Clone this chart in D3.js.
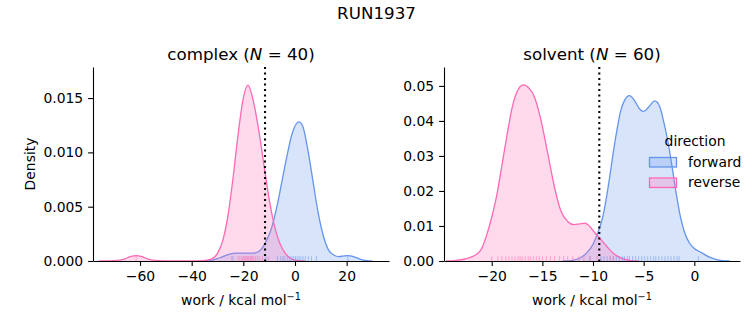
<!DOCTYPE html>
<html>
<head>
<meta charset="utf-8">
<script src="https://cdn.jsdelivr.net/npm/d3@7"></script>
<style>
  body { margin: 0; background: #fff; }
  svg { display: block; }
  text { font-family: "DejaVu Sans", sans-serif; fill: #000; }
</style>
</head>
<body>
<div id="chart"></div>
<script>
// work distributions for one perturbation, forward vs reverse
const runName = 'RUN1937';
const directions = ['forward', 'reverse'];
const directionColors = ['#6495ed', '#ff69b4'];

// complex leg: density curves [work, density]
const complexForward = [
  [-36, 0], [-33, 0.00005], [-31, 0.00015], [-29, 0.0003], [-27, 0.0005], [-25, 0.00065],
  [-23, 0.00072], [-21, 0.00073], [-19, 0.00072], [-17, 0.00072], [-15, 0.00078],
  [-13, 0.0011], [-11, 0.0019], [-9, 0.0031], [-7, 0.005], [-5, 0.0074], [-3, 0.0098],
  [-1, 0.0118], [1.5, 0.0128], [3, 0.0124], [5, 0.0102], [7, 0.0073], [9, 0.0044],
  [11, 0.0023], [13, 0.001], [15, 0.00055], [17, 0.0004], [19, 0.00047], [20.5, 0.0005],
  [22, 0.00045], [24, 0.00028], [26, 0.0001], [28, 0.00003], [30, 0]
];
const complexReverse = [
  [-76, 0], [-70, 0.00003], [-66, 0.00018], [-63.5, 0.00043], [-61.5, 0.0005],
  [-59.5, 0.00043], [-57, 0.00018], [-53, 0.00003], [-48, 0], [-40, 0],
  [-36, 0.00003], [-34, 0.00008], [-32, 0.00022], [-30, 0.0007], [-28, 0.00185],
  [-26, 0.0041], [-24, 0.0076], [-22, 0.0117], [-20, 0.015], [-18.2, 0.0162],
  [-16, 0.0146], [-14, 0.012], [-12, 0.0088], [-11, 0.0072], [-10, 0.0057],
  [-9, 0.0044], [-8, 0.0033], [-7, 0.0024], [-6, 0.0017], [-5, 0.0012], [-4, 0.0008],
  [-3, 0.0005], [-2, 0.0003], [-1, 0.00015], [0, 0.00008], [2, 0.00002], [4, 0]
];
const complexForwardWork = [-24, -11.2, -6.8, -5.5, -4.6, -3.9, -2.8, -1.9, -1.2, -0.5,
  0.2, 0.9, 1.6, 2.3, 3.1, 4.0, 5.2, 6.4, 8.3, 20.5];
const complexReverseWork = [-61.5, -24.5, -22.0, -21.3, -20.5, -20.0, -19.6, -19.0, -18.6,
  -18.2, -17.8, -17.3, -16.9, -16.5, -16.0, -15.3, -14.6, -13.8, -12.6, -10.2];
const complexEstimate = -11.6;
const complexXTicks = [-60, -40, -20, 0, 20];
const complexYTicks = [0, 0.005, 0.010, 0.015];

// solvent leg
const solventForward = [
  [-13, 0], [-12, 0.0002], [-11.2, 0.001], [-10.6, 0.0024], [-10, 0.0048], [-9.5, 0.0082],
  [-9, 0.013], [-8.65, 0.0185], [-8.3, 0.025], [-8.0, 0.031], [-7.6, 0.038], [-7.3, 0.0425],
  [-6.9, 0.0458], [-6.4, 0.0472], [-5.9, 0.0458], [-5.4, 0.0434], [-5.0, 0.0427],
  [-4.5, 0.044], [-3.9, 0.0457], [-3.4, 0.044], [-3.0, 0.0395], [-2.6, 0.034],
  [-2.2, 0.027], [-1.8, 0.0195], [-1.4, 0.013], [-1.0, 0.0085], [-0.5, 0.0052],
  [0, 0.0036], [0.5, 0.0027], [1.0, 0.0019], [1.5, 0.0011], [2.2, 0.0004], [3, 0.00005], [3.5, 0]
];
const solventReverse = [
  [-24.5, 0], [-23.5, 0.0002], [-22.5, 0.0007], [-21.5, 0.0019], [-21, 0.0035],
  [-20.5, 0.0074], [-20, 0.0125], [-19.5, 0.0188], [-19, 0.0272], [-18.5, 0.0358],
  [-18, 0.0436], [-17.5, 0.0483], [-16.9, 0.0503], [-16.3, 0.0493], [-15.8, 0.047],
  [-15.2, 0.041], [-14.5, 0.0312], [-13.85, 0.0217], [-13.2, 0.0145], [-12.5, 0.0113],
  [-11.9, 0.0104], [-11.3, 0.0106], [-10.8, 0.0108], [-10.3, 0.0098], [-9.8, 0.008],
  [-9.3, 0.0064], [-8.65, 0.0042], [-8.0, 0.0022], [-7.2, 0.0008], [-6.3, 0.0001], [-5.5, 0]
];
const solventForwardWork = [-10.3, -9.2, -8.9, -8.6, -8.3, -8.0, -7.7, -7.4, -7.1, -6.9,
  -6.6, -6.4, -6.1, -5.8, -5.5, -5.2, -4.9, -4.6, -4.3, -4.0, -3.8, -3.5, -3.2, -2.9,
  -2.6, -2.3, -2.0, -1.7, -1.5, 0.4];
const solventReverseWork = [-20.0, -19.4, -19.0, -18.6, -18.3, -18.0, -17.7, -17.4,
  -17.2, -17.0, -16.7, -16.4, -16.2, -15.9, -15.6, -15.3, -15.0, -14.6, -14.2, -13.8,
  -13.3, -12.9, -12.5, -12.0, -11.4, -10.9, -10.3, -9.6, -8.3, -8.0];
const solventEstimate = -9.38;
const solventXTicks = [-20, -15, -10, -5, 0];
const solventYTicks = [0, 0.01, 0.02, 0.03, 0.04, 0.05];

const width = 753;
const height = 325;
const tickLen = 4.9;
const plotTop = 67;
const plotBottom = 261;

const panels = [
  {
    title: 'complex', n: 40, x0: 93, x1: 389,
    xDomain: [-78.2, 36.4], yDomain: [0, 0.01786],
    curves: [complexForward, complexReverse],
    rugs: [complexForwardWork, complexReverseWork],
    estimate: complexEstimate,
    xTicks: complexXTicks, yTicks: complexYTicks, yFormat: '.3f', yLabel: 'Density'
  },
  {
    title: 'solvent', n: 60, x0: 444, x1: 740,
    xDomain: [-24.71, 4.51], yDomain: [0, 0.0554],
    curves: [solventForward, solventReverse],
    rugs: [solventForwardWork, solventReverseWork],
    estimate: solventEstimate,
    xTicks: solventXTicks, yTicks: solventYTicks, yFormat: '.2f', yLabel: null
  }
];

const svg = d3.select('#chart').append('svg')
  .attr('width', width)
  .attr('height', height);

svg.append('text')
  .attr('x', width / 2)
  .attr('y', 19)
  .attr('text-anchor', 'middle')
  .style('font-size', '16.7px')
  .text(runName);

panels.forEach(p => {
  const x = d3.scaleLinear().domain(p.xDomain).range([p.x0, p.x1]);
  const y = d3.scaleLinear().domain(p.yDomain).range([plotBottom, plotTop]);
  const g = svg.append('g');

  const area = d3.area()
    .x(d => x(d[0]))
    .y0(y(0))
    .y1(d => y(d[1]))
    .curve(d3.curveMonotoneX);
  const line = d3.line()
    .x(d => x(d[0]))
    .y(d => y(d[1]))
    .curve(d3.curveMonotoneX);

  p.curves.forEach((c, i) => {
    g.append('path')
      .attr('d', area(c))
      .attr('fill', directionColors[i])
      .attr('fill-opacity', 0.25);
    g.append('path')
      .attr('d', line(c))
      .attr('fill', 'none')
      .attr('stroke', directionColors[i])
      .attr('stroke-width', 1.3);
  });

  // rug ticks along the bottom
  const rugH = 0.025 * (plotBottom - plotTop);
  p.rugs.forEach((r, i) => {
    g.selectAll(null)
      .data(r)
      .enter()
      .append('line')
      .attr('x1', d => x(d))
      .attr('x2', d => x(d))
      .attr('y1', plotBottom)
      .attr('y2', plotBottom - rugH)
      .attr('stroke', directionColors[i])
      .attr('stroke-opacity', 0.5)
      .attr('stroke-width', 1);
  });

  g.append('line')
    .attr('x1', x(p.estimate))
    .attr('x2', x(p.estimate))
    .attr('y1', plotTop)
    .attr('y2', plotBottom)
    .attr('stroke', '#000')
    .attr('stroke-width', 2.1)
    .attr('stroke-dasharray', '2.1,3.4');

  const xAxis = d3.axisBottom(x)
    .tickValues(p.xTicks)
    .tickSize(tickLen)
    .tickSizeOuter(0)
    .tickPadding(4.9)
    .tickFormat(d3.format('d'));
  const yAxis = d3.axisLeft(y)
    .tickValues(p.yTicks)
    .tickSize(tickLen)
    .tickSizeOuter(0)
    .tickPadding(4.9)
    .tickFormat(d3.format(p.yFormat));

  [g.append('g').attr('transform', `translate(0,${plotBottom})`).call(xAxis),
   g.append('g').attr('transform', `translate(${p.x0},0)`).call(yAxis)]
    .forEach(a => {
      a.select('.domain').attr('stroke-width', 1.1);
      a.selectAll('.tick line').attr('stroke-width', 1.1);
      a.selectAll('.tick text')
        .style('font-size', '13.9px')
        .style('font-family', '"DejaVu Sans", sans-serif')
        .attr('fill', '#000');
    });

  const cx = (p.x0 + p.x1) / 2;
  const title = g.append('text')
    .attr('x', cx)
    .attr('y', 60)
    .attr('text-anchor', 'middle')
    .style('font-size', '16.7px');
  title.append('tspan').text(`${p.title} (`);
  title.append('tspan').style('font-style', 'italic').text('N');
  title.append('tspan').text(` = ${p.n})`);

  const xl = g.append('text')
    .attr('x', cx)
    .attr('y', 305)
    .attr('text-anchor', 'middle')
    .style('font-size', '13.9px');
  xl.append('tspan').text('work / kcal mol');
  xl.append('tspan').attr('dy', -5).style('font-size', '9.7px').text('\u22121');

  if (p.yLabel) {
    g.append('text')
      .attr('transform', `translate(35,${(plotTop + plotBottom) / 2}) rotate(-90)`)
      .attr('text-anchor', 'middle')
      .style('font-size', '13.9px')
      .text(p.yLabel);
  }
});

// figure legend
const legend = svg.append('g').attr('transform', 'translate(649,0)');
legend.append('text')
  .attr('x', 46)
  .attr('y', 146)
  .attr('text-anchor', 'middle')
  .style('font-size', '13.9px')
  .text('direction');
directions.forEach((d, i) => {
  const yy = 157.5 + i * 20.5;
  legend.append('rect')
    .attr('x', 0.5)
    .attr('y', yy)
    .attr('width', 27)
    .attr('height', 9.5)
    .attr('fill', directionColors[i])
    .attr('fill-opacity', 0.25)
    .attr('stroke', directionColors[i])
    .attr('stroke-width', 1.3);
  legend.append('text')
    .attr('x', 39)
    .attr('y', yy + 9.3)
    .style('font-size', '13.9px')
    .text(d);
});
</script>
</body>
</html>
